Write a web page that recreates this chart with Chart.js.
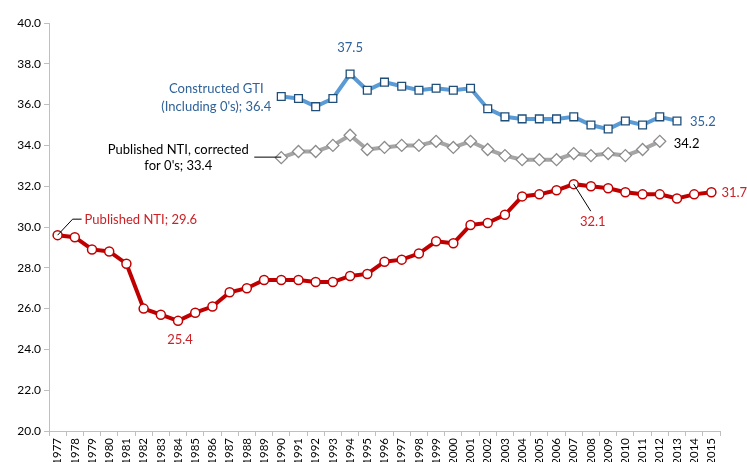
<!DOCTYPE html>
<html>
<head>
<meta charset="utf-8">
<script src="https://cdn.jsdelivr.net/npm/chart.js@4"></script>
<style>
html,body{margin:0;padding:0;background:#fff;}
#wrap{width:747px;height:462px;position:relative;}
</style>
</head>
<body>
<div id="wrap"><canvas id="c" width="747" height="462"></canvas></div>
<script>
const years = ["1977","1978","1979","1980","1981","1982","1983","1984","1985","1986","1987","1988","1989","1990","1991","1992","1993","1994","1995","1996","1997","1998","1999","2000","2001","2002","2003","2004","2005","2006","2007","2008","2009","2010","2011","2012","2013","2014","2015"];
const publishedNTI = [29.6,29.5,28.9,28.8,28.2,26.0,25.7,25.4,25.8,26.1,26.8,27.0,27.4,27.4,27.4,27.3,27.3,27.6,27.7,28.3,28.4,28.7,29.3,29.2,30.1,30.2,30.6,31.5,31.6,31.8,32.1,32.0,31.9,31.7,31.6,31.6,31.4,31.6,31.7];
const constructedGTI = [null,null,null,null,null,null,null,null,null,null,null,null,null,36.4,36.3,35.9,36.3,37.5,36.7,37.1,36.9,36.7,36.8,36.7,36.8,35.8,35.4,35.3,35.3,35.3,35.4,35.0,34.8,35.2,35.0,35.4,35.2,null,null];
const correctedNTI = [null,null,null,null,null,null,null,null,null,null,null,null,null,33.4,33.7,33.7,34.0,34.5,33.8,33.9,34.0,34.0,34.2,33.9,34.2,33.8,33.5,33.3,33.3,33.3,33.6,33.5,33.6,33.5,33.8,34.2,null,null,null];
const yTicks = [20,22,24,26,28,30,32,34,36,38,40];

const FONT = "Lato, 'Open Sans', sans-serif";
const BLUE_TXT = "#2F6299";
const RED_TXT = "#CC2127";

const annot = {
  id:'annot',
  afterDatasetsDraw(chart){
    const ctx = chart.ctx;
    const pt = (ds,i)=>chart.getDatasetMeta(ds).data[i];
    ctx.save();
    ctx.font = "13px " + FONT;
    ctx.textBaseline = "middle";
    // Blue
    let p = pt(0, years.indexOf("1994"));
    ctx.fillStyle = BLUE_TXT; ctx.textAlign = "center";
    ctx.fillText(constructedGTI[years.indexOf("1994")].toFixed(1), p.x, p.y - 26);
    p = pt(0, years.indexOf("1990"));
    ctx.fillText("Constructed GTI", p.x - 65, p.y - 8);
    ctx.fillText("(Including 0's); " + constructedGTI[years.indexOf("1990")].toFixed(1), p.x - 65, p.y + 10);
    p = pt(0, years.indexOf("2013"));
    ctx.textAlign = "left";
    ctx.fillText(constructedGTI[years.indexOf("2013")].toFixed(1), p.x + 13, p.y + 1);
    // Gray
    ctx.fillStyle = "#000";
    p = pt(1, years.indexOf("1990"));
    ctx.textAlign = "center";
    ctx.fillText("Published NTI, corrected", p.x - 103, p.y - 8);
    ctx.fillText("for 0's; " + correctedNTI[years.indexOf("1990")].toFixed(1), p.x - 103, p.y + 8);
    ctx.strokeStyle = "#000"; ctx.lineWidth = 1;
    ctx.beginPath(); ctx.moveTo(p.x - 27, p.y - 0.5); ctx.lineTo(p.x, p.y - 0.5); ctx.stroke();
    p = pt(1, years.indexOf("2012"));
    ctx.textAlign = "left";
    ctx.fillText(correctedNTI[years.indexOf("2012")].toFixed(1), p.x + 14, p.y + 2);
    // Red
    ctx.fillStyle = RED_TXT;
    p = pt(2, years.indexOf("2015"));
    ctx.fillText(publishedNTI[years.indexOf("2015")].toFixed(1), p.x + 10, p.y);
    p = pt(2, years.indexOf("2007"));
    ctx.textAlign = "center";
    ctx.fillText(publishedNTI[years.indexOf("2007")].toFixed(1), p.x + 19, p.y + 38);
    ctx.beginPath(); ctx.moveTo(p.x, p.y); ctx.lineTo(p.x + 17, p.y + 27); ctx.stroke();
    p = pt(2, years.indexOf("1984"));
    ctx.fillText(publishedNTI[years.indexOf("1984")].toFixed(1), p.x + 2, p.y + 19);
    p = pt(2, 0);
    ctx.textAlign = "left";
    ctx.fillText("Published NTI; " + publishedNTI[0].toFixed(1), p.x + 27, p.y - 15);
    ctx.beginPath(); ctx.moveTo(p.x, p.y); ctx.lineTo(p.x + 15, p.y - 16); ctx.lineTo(p.x + 24, p.y - 16); ctx.stroke();
    ctx.restore();
  }
};

new Chart(document.getElementById('c'), {
  type:'line',
  data:{
    labels: years,
    datasets:[
      {label:'Constructed GTI', data:constructedGTI, borderColor:'#5B9BD5', borderWidth:4,
       pointStyle:'rect', pointRadius:5.5, pointBackgroundColor:'#fff', pointBorderColor:'#1F4E79', pointBorderWidth:1.3, tension:0},
      {label:'Published NTI corrected', data:correctedNTI, borderColor:'#A5A5A5', borderWidth:4,
       pointStyle:'rectRot', pointRadius:6, pointBackgroundColor:'#fff', pointBorderColor:'#8C8C8C', pointBorderWidth:1.3, tension:0},
      {label:'Published NTI', data:publishedNTI, borderColor:'#C00000', borderWidth:4,
       pointStyle:'circle', pointRadius:4.5, pointBackgroundColor:'#fff', pointBorderColor:'#C00000', pointBorderWidth:1.5, tension:0}
    ]
  },
  options:{
    responsive:false, animation:false,
    devicePixelRatio:1,
    layout:{padding:{top:23,right:27,left:0,bottom:0}},
    plugins:{legend:{display:false}, tooltip:{enabled:false}},
    scales:{
      x:{
        offset:true,
        grid:{offset:true, drawOnChartArea:false, tickLength:5, color:'#BFBFBF'},
        border:{color:'#BFBFBF'},
        ticks:{autoSkip:false, maxRotation:90, minRotation:90, color:'#000', font:{family:FONT, size:11.5}, padding:2},
        afterFit(s){ s.height = 31; }
      },
      y:{
        min:20, max:40,
        afterBuildTicks(s){ s.ticks = yTicks.map(v=>({value:v})); },
        grid:{drawOnChartArea:false, tickLength:5, color:'#BFBFBF'},
        border:{color:'#BFBFBF'},
        ticks:{color:'#000', font:{family:FONT, size:12}, padding:3, callback:v=>Number(v).toFixed(1)},
        afterFit(s){ s.width = 49; }
      }
    }
  },
  plugins:[annot]
});
</script>
</body>
</html>
